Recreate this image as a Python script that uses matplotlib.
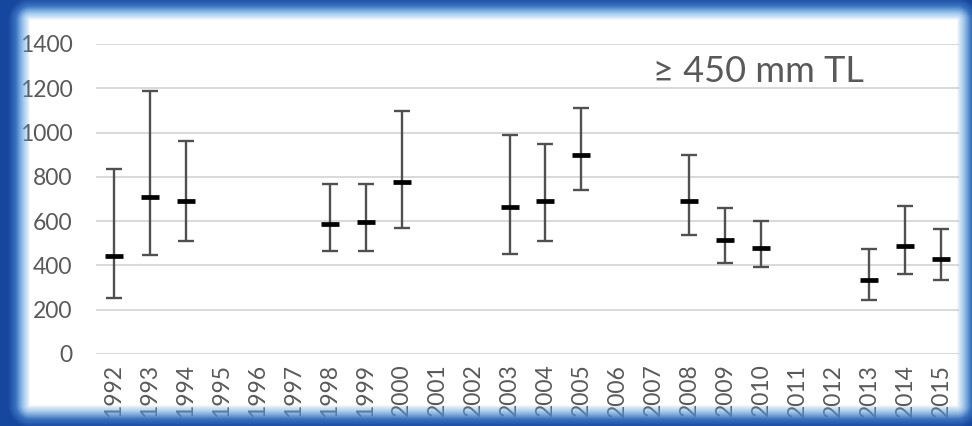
import numpy as np
import matplotlib.pyplot as plt

# data
years = [str(y) for y in range(1992, 2016)]
nan = np.nan
mean_vals = [441, 708, 690, nan, nan, nan, 587, 595, 777, nan, nan, 664,
             690, 897, nan, nan, 690, 516, 480, nan, nan, 336, 486, 430]
upper_vals = [834, 1187, 961, nan, nan, nan, 766, 766, 1099, nan, nan, 991,
              947, 1111, nan, nan, 899, 658, 599, nan, nan, 474, 670, 563]
lower_vals = [253, 447, 510, nan, nan, nan, 467, 467, 568, nan, nan, 453,
              510, 739, nan, nan, 536, 410, 392, nan, nan, 245, 360, 334]
y_ticks = [0, 200, 400, 600, 800, 1000, 1200, 1400]
label_text = "\u2265 450 mm TL"

plt.rcParams['font.family'] = ['Lato', 'DejaVu Sans']
grey = '#595959'

W, H = 972, 426
fig = plt.figure(figsize=(W / 100, H / 100), dpi=100)
fig.patch.set_facecolor('white')

ax = fig.add_axes([96 / W, 1 - 354 / H, (959 - 96) / W, (354 - 44) / H])
x = np.arange(len(years))
mean = np.array(mean_vals, dtype=float)
up = np.array(upper_vals, dtype=float)
lo = np.array(lower_vals, dtype=float)
ok = ~np.isnan(mean)

ax.errorbar(x[ok], mean[ok], yerr=[mean[ok] - lo[ok], up[ok] - mean[ok]],
            fmt='none', ecolor='#505050', elinewidth=1.7, capsize=5.5,
            capthick=1.7, zorder=3)
ax.plot(x[ok], mean[ok], linestyle='none', marker='_', markersize=12.5,
        markeredgewidth=3.4, color='black', zorder=4)

ax.set_xlim(-0.5, len(years) - 0.5)
ax.set_ylim(0, 1400)
ax.set_yticks(y_ticks)
ax.set_xticks(x)
ax.set_xticklabels(years, rotation=90)
ax.tick_params(axis='both', length=0, labelsize=16.5, labelcolor=grey)
ax.tick_params(axis='y', pad=17)
ax.tick_params(axis='x', pad=7)
ax.grid(axis='y', color='#d9d9d9', linewidth=1.4)
ax.set_axisbelow(True)
for s in ax.spines.values():
    s.set_visible(False)

ax.text(15, 1229, label_text, fontsize=26, color=grey, va='baseline',
        ha='left')

# soft blue frame drawn on top
xx, yy = np.meshgrid(np.arange(W) + 0.5, np.arange(H) + 0.5)
x0, x1, y0, y1 = 30, 956, 20, 405
dx = np.maximum(np.maximum(x0 - xx, xx - x1), 0)
dy = np.maximum(np.maximum(y0 - yy, yy - y1), 0)
d = np.sqrt(dx ** 2 + dy ** 2)
alpha = np.clip(d / 14.0, 0, 1) ** 0.8
t = np.clip((d - 6) / 16.0, 0, 1)
light = np.array([0.36, 0.62, 0.88])
dark = np.array([0.09, 0.28, 0.62])
rgb = light[None, None, :] * (1 - t[..., None]) + dark[None, None, :] * t[..., None]
img = np.dstack([rgb, alpha])

ov = fig.add_axes([0, 0, 1, 1], zorder=10)
ov.imshow(img, extent=[0, W, H, 0], aspect='auto', interpolation='bilinear')
ov.set_xlim(0, W)
ov.set_ylim(H, 0)
ov.axis('off')

fig.savefig('out.png', dpi=100)
